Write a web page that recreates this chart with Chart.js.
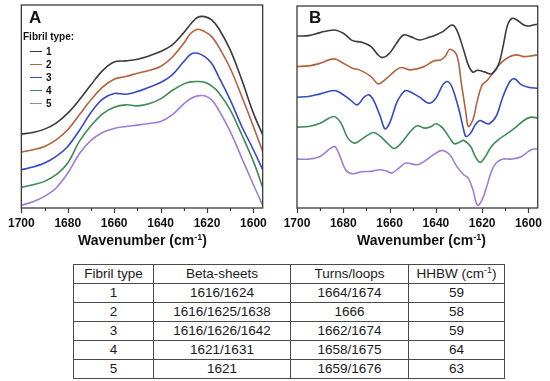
<!DOCTYPE html>
<html>
<head>
<meta charset="utf-8">
<script src="https://cdn.jsdelivr.net/npm/chart.js@4.4.1/dist/chart.umd.min.js"></script>
<style>
  html, body { margin: 0; padding: 0; background: #fff; }
  body { width: 550px; height: 381px; position: relative; overflow: hidden; font-family: "Liberation Sans", Arial, sans-serif; }
  .panel { position: absolute; top: 0; width: 275px; height: 250px; }
  .letter { position: absolute; font-weight: bold; font-size: 17px; color: #111; line-height: 18px; }
  .axtitle { position: absolute; top: 231px; width: 275px; text-align: center; font-weight: bold; font-size: 14px; line-height: 18px; color: #111; }
  .axtitle sup { font-size: 9px; line-height: 0; vertical-align: 5px; }
  .leg { position: absolute; font-weight: bold; font-size: 10px; color: #111; line-height: 12px; }
  .legline { position: absolute; height: 0; border-top: 1.6px solid; width: 12px; }
  table { position: absolute; left: 73px; top: 264px; border-collapse: collapse; font-size: 13.5px; color: #1a1a1a; }
  td { border: 1px solid #4a4a4a; text-align: center; padding: 0; height: 18px; line-height: 16px; }
  td sup { font-size: 9px; line-height: 0; vertical-align: 5px; }
</style>
</head>
<body>
<div class="panel" style="left:0"><canvas id="cA" width="275" height="250"></canvas></div>
<div class="panel" style="left:275px"><canvas id="cB" width="275" height="250"></canvas></div>

<div class="letter" style="left:29px; top:9px;">A</div>
<div class="letter" style="left:309px; top:9px;">B</div>
<div id="legend"></div>
<div class="axtitle" style="left:5px;">Wavenumber (cm<sup>-1</sup>)</div>
<div class="axtitle" style="left:284px;">Wavenumber (cm<sup>-1</sup>)</div>

<table>
  <tr><td style="width:79px">Fibril type</td><td style="width:136px">Beta-sheets</td><td style="width:117px">Turns/loops</td><td style="width:95px">HHBW (cm<sup>-1</sup>)</td></tr>
  <tr><td>1</td><td>1616/1624</td><td>1664/1674</td><td>59</td></tr>
  <tr><td>2</td><td>1616/1625/1638</td><td>1666</td><td>58</td></tr>
  <tr><td>3</td><td>1616/1626/1642</td><td>1662/1674</td><td>59</td></tr>
  <tr><td>4</td><td>1621/1631</td><td>1658/1675</td><td>64</td></tr>
  <tr><td>5</td><td>1621</td><td>1659/1676</td><td>63</td></tr>
</table>

<script>
// ---------- Data ----------
const fibrilTypes = ['1', '2', '3', '4', '5'];
const seriesColors = ['#3b3b3b', '#b4613d', '#3548c8', '#3f8a56', '#9b7fd6'];
const majorTicks = [1700, 1680, 1660, 1640, 1620, 1600];

// Panel A: absorbance (arbitrary units, offset per fibril type)
const waveA = [1700,1695,1690,1685,1680,1675,1670,1665,1660,1655,1650,1645,1640,1635,1630,1627,1624,1621,1618,1615,1610,1605,1600,1596];
const absA1 = [22.2,22.7,23.7,25.5,28.5,32.5,37.0,41.3,43.9,44.2,44.7,45.7,47.0,49.0,52.7,55.3,57.3,57.5,56.5,54.0,47.5,38.5,28.5,22.0];
const absA2 = [16.8,17.5,18.5,20.5,23.5,28.0,32.5,36.3,38.7,39.5,40.5,41.3,42.5,45.3,49.5,52.5,53.7,53.0,51.5,48.5,42.0,33.5,24.5,17.0];
const absA3 = [11.5,12.3,13.5,15.5,18.5,23.3,28.7,32.7,34.4,34.2,35.0,36.3,37.7,40.0,44.0,46.2,46.5,45.5,43.5,39.5,32.5,24.5,17.5,11.5];
const absA4 = [6.2,7.0,8.0,10.0,13.5,20.0,24.7,28.3,30.3,31.0,30.7,31.3,32.8,35.3,37.3,37.9,38.0,37.8,36.7,34.7,29.5,22.0,14.0,6.2];
const absA5 = [0.8,1.9,3.5,6.0,10.5,16.3,20.3,22.7,23.9,24.5,24.9,25.4,26.0,28.0,31.3,32.9,33.7,33.7,32.5,29.5,23.0,15.0,7.0,0.8];

// Panel B: second derivative (arbitrary units, offset per fibril type)
const waveB1 = [1700,1695,1690,1684,1680,1676,1672,1668,1665,1663,1660,1657,1654,1651,1647,1643,1640,1637,1633,1631,1628,1626,1624,1622,1619,1616,1613,1611,1609,1607,1605,1602,1600,1598,1596];
const d2B1   = [51.7,51.8,52.7,53.5,52.5,50.3,49.8,48.5,46.0,45.2,46.5,49.5,52.0,51.5,50.5,51.3,52.0,53.0,55.0,53.5,47.5,43.0,40.8,41.4,40.9,40.3,43.0,48.5,55.0,57.0,56.5,55.0,54.7,55.0,55.2];
const waveB2 = [1700,1695,1690,1684,1680,1676,1673,1668,1665,1662,1658,1655,1651,1645,1641,1638,1636,1634,1631,1629,1627,1626,1624,1622,1620,1618,1616,1612,1608,1605,1602,1598,1596];
const d2B2   = [42.5,42.7,43.5,44.8,43.5,42.0,41.5,39.5,37.3,38.5,41.0,42.2,41.5,42.5,44.2,44.5,45.5,47.7,46.0,37.5,28.5,24.5,26.5,32.5,37.0,38.2,40.0,43.5,45.5,46.0,45.5,45.8,46.0];
const waveB3 = [1700,1695,1690,1684,1681,1677,1674,1671,1669,1667,1664,1662,1660,1657,1655,1653,1650,1647,1643,1640,1637,1635,1633,1630,1628,1627,1625,1623,1621,1619,1617,1614,1611,1608,1606,1603,1600,1596];
const d2B3   = [33.3,33.5,34.3,35.3,34.5,32.5,31.0,33.3,34.0,32.5,27.5,23.8,25.5,31.5,34.0,35.3,34.5,33.3,31.5,33.0,37.0,38.0,36.3,29.5,23.5,21.5,22.5,25.0,26.3,25.7,25.3,27.5,33.5,38.0,38.8,37.0,36.3,36.0];
const waveB4 = [1700,1695,1690,1684,1681,1678,1675,1672,1667,1664,1661,1658,1655,1651,1648,1645,1642,1640,1637,1634,1632,1630,1628,1625,1623,1621,1619,1616,1613,1610,1606,1602,1599,1596];
const d2B4   = [24.3,24.5,25.5,27.5,25.5,21.0,19.5,20.7,22.7,21.5,19.5,17.9,19.5,23.0,24.7,24.0,24.5,25.3,24.0,21.0,19.3,19.7,20.3,18.5,15.5,13.7,15.0,18.5,20.5,22.0,24.0,26.3,27.3,27.0];
const waveB5 = [1700,1695,1690,1684,1682,1679,1676,1672,1668,1664,1661,1659,1656,1653,1648,1645,1640,1637,1634,1631,1628,1626,1624,1622,1620,1618,1616,1614,1611,1607,1603,1600,1598,1596];
const d2B5   = [14.7,14.7,15.5,18.5,16.5,11.5,10.3,10.9,11.0,11.5,11.0,10.5,12.0,13.5,13.0,14.0,16.5,17.3,16.0,12.5,10.0,9.0,5.5,0.8,2.5,6.5,11.0,13.5,14.7,14.7,15.5,17.0,17.7,17.7];

// ---------- Build ----------
const zip = (xs, ys) => xs.map((x, i) => ({ x: x, y: ys[i] }));

const seriesA = [absA1, absA2, absA3, absA4, absA5];
const seriesB = [[waveB1, d2B1], [waveB2, d2B2], [waveB3, d2B3], [waveB4, d2B4], [waveB5, d2B5]];

function mkDataset(data, i) {
  return {
    label: fibrilTypes[i],
    data: data,
    borderColor: seriesColors[i],
    borderWidth: 1.6,
    pointRadius: 0,
    fill: false,
    tension: 0.35
  };
}

const framePlugin = {
  id: 'frame',
  afterDraw(chart) {
    const { ctx, chartArea: a } = chart;
    const xs = chart.scales.x;
    ctx.save();
    ctx.strokeStyle = '#3a3a3a';
    ctx.lineWidth = 1.3;
    ctx.strokeRect(a.left, a.top, a.right - a.left, a.bottom - a.top);
    ctx.lineWidth = 1.2;
    xs.ticks.forEach(t => {
      const px = Math.round(xs.getPixelForValue(t.value)) + 0.5;
      const len = (t.value % 20 === 0) ? 5 : 3;
      ctx.beginPath();
      ctx.moveTo(px, a.bottom);
      ctx.lineTo(px, a.bottom + len);
      ctx.stroke();
    });
    ctx.restore();
  }
};

function mkOptions(padLeft, padRight, padTop, yMax) {
  return {
    responsive: false,
    animation: false,
    devicePixelRatio: 1,
    layout: { padding: { left: padLeft, right: padRight, top: padTop, bottom: 0 } },
    plugins: { legend: { display: false }, tooltip: { enabled: false } },
    scales: {
      x: {
        type: 'linear',
        reverse: true,
        min: 1596,
        max: 1700,
        border: { display: false },
        grid: { display: false, drawTicks: false },
        afterFit(scale) { scale.height = 42; },
        ticks: {
          stepSize: 10,
          includeBounds: false,
          autoSkip: false,
          maxRotation: 0,
          padding: 8,
          color: '#111',
          font: { family: '"Liberation Sans", Arial, sans-serif', size: 12, weight: 'bold' },
          callback: v => (majorTicks.includes(v) ? String(v) : '')
        }
      },
      y: { display: false, min: 0, max: yMax }
    }
  };
}

new Chart(document.getElementById('cA'), {
  type: 'line',
  data: { datasets: seriesA.map((s, i) => mkDataset(zip(waveA, s), i)) },
  options: mkOptions(19, 9, 5, 61.0),
  plugins: [framePlugin]
});

new Chart(document.getElementById('cB'), {
  type: 'line',
  data: { datasets: seriesB.map((s, i) => mkDataset(zip(s[0], s[1]), i)) },
  options: mkOptions(22, 5, 6, 60.7),
  plugins: [framePlugin]
});

// Legend (panel A)
const leg = document.getElementById('legend');
const head = document.createElement('div');
head.className = 'leg';
head.style.left = '23px';
head.style.top = '31px';
head.textContent = 'Fibril type:';
leg.appendChild(head);
fibrilTypes.forEach((t, i) => {
  const yc = 51.5 + i * 13;
  const ln = document.createElement('div');
  ln.className = 'legline';
  ln.style.left = '30px';
  ln.style.top = (yc - 0.8) + 'px';
  ln.style.borderTopColor = seriesColors[i];
  leg.appendChild(ln);
  const tx = document.createElement('div');
  tx.className = 'leg';
  tx.style.left = '46px';
  tx.style.top = (yc - 6) + 'px';
  tx.textContent = t;
  leg.appendChild(tx);
});
</script>
</body>
</html>
